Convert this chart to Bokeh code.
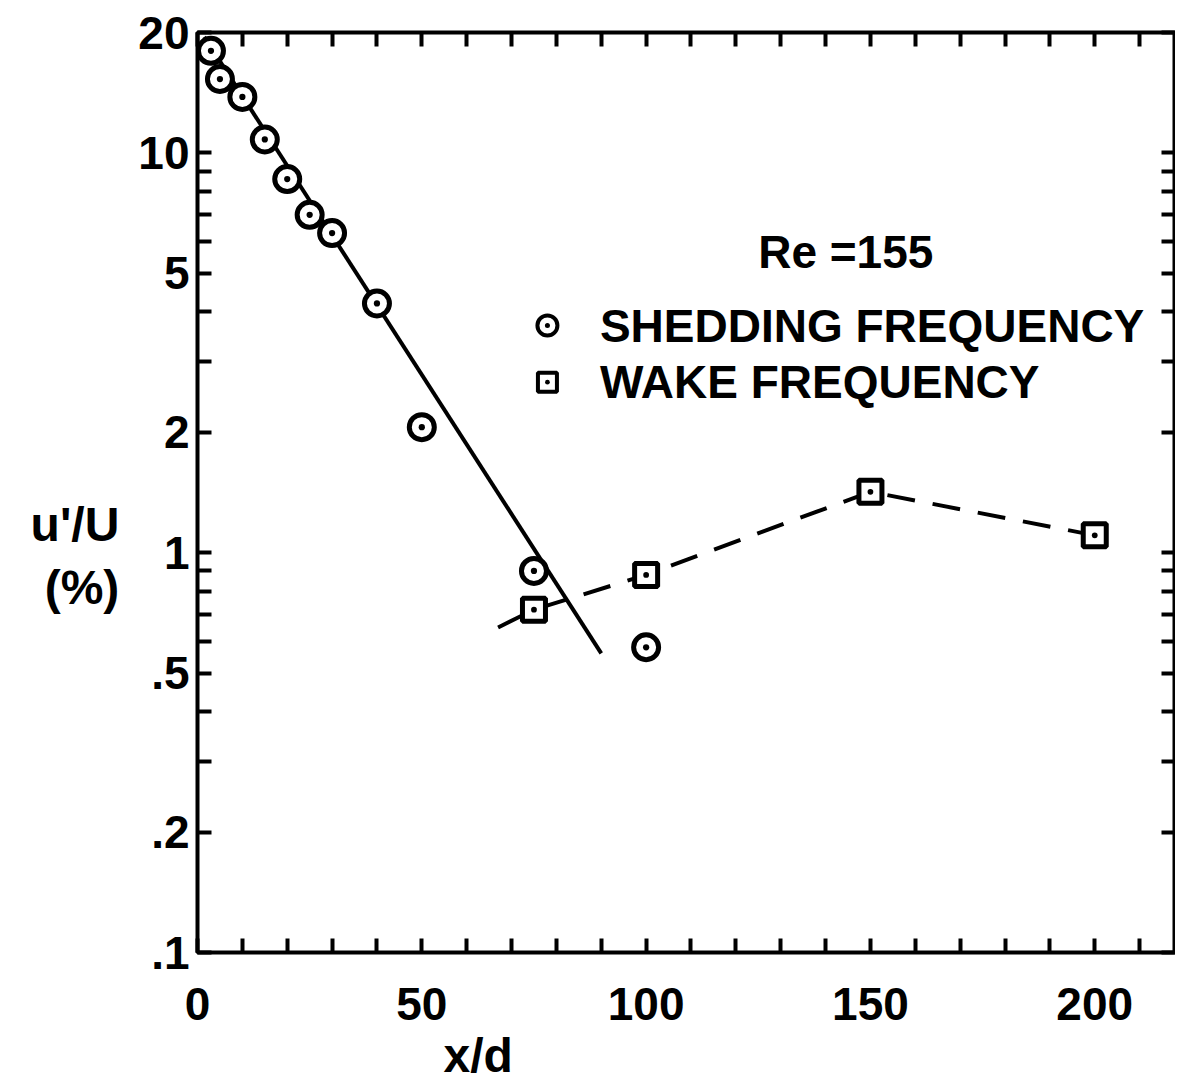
from bokeh.plotting import figure
from bokeh.models import Range1d, FixedTicker, LinearAxis, LogAxis, CustomJSTickFormatter, Label, Title
from bokeh.embed import file_html
from bokeh.resources import INLINE

# ---- data ----
shed_x = [3, 5, 10, 15, 20, 25, 30, 40, 50, 75, 100]
shed_y = [18.0, 15.3, 13.8, 10.8, 8.6, 7.0, 6.3, 4.2, 2.06, 0.90, 0.58]
wake_x = [75, 100, 150, 200]
wake_y = [0.72, 0.88, 1.42, 1.105]
fit_x = [1.5, 90]
fit_y = [19.5, 0.56]
wake_line_x = [67, 75, 100, 150, 200]
wake_line_y = [0.65, 0.72, 0.88, 1.42, 1.105]

x_major = [0, 50, 100, 150, 200]
x_minor = [10, 20, 30, 40, 60, 70, 80, 90, 110, 120, 130, 140, 160, 170, 180, 190, 210]
y_major = [0.1, 0.2, 0.5, 1, 2, 5, 10, 20]
y_minor = [0.3, 0.4, 0.6, 0.7, 0.8, 0.9, 3, 4, 6, 7, 8, 9]

legend_x = [78, 78]
legend_y = [3.70, 2.67]
legend_text = ["SHEDDING FREQUENCY", "WAKE FREQUENCY"]
title_text = "Re =155"
x_title = "x/d"
y_title = "\n\nu'/U\n(%)"

FONT = "Liberation Sans"

p = figure(width=1175, height=1086, x_range=Range1d(0, 218), y_range=Range1d(0.1, 20),
           y_axis_type="log", output_backend="svg", toolbar_location=None,
           min_border_left=197, min_border_right=0, min_border_top=32, min_border_bottom=20)
p.grid.visible = False
p.outline_line_color = "black"
p.outline_line_width = 4
p.background_fill_color = "white"
p.border_fill_color = "white"

def style_axis(ax):
    ax.axis_line_color = None
    ax.major_tick_in = 14
    ax.major_tick_out = 0
    ax.minor_tick_in = 14
    ax.minor_tick_out = 0
    ax.major_tick_line_width = 4
    ax.minor_tick_line_width = 4
    ax.major_tick_line_color = "black"
    ax.minor_tick_line_color = "black"
    ax.major_label_text_font = FONT
    ax.major_label_text_font_style = "bold"
    ax.major_label_text_color = "black"

xa = p.xaxis[0]
xa.ticker = FixedTicker(ticks=x_major, minor_ticks=x_minor)
style_axis(xa)
xa.major_label_text_font_size = "46px"
xa.major_label_standoff = 35

ya = p.yaxis[0]
ya.ticker = FixedTicker(ticks=y_major, minor_ticks=y_minor)
ya.formatter = CustomJSTickFormatter(code="""
    var s = String(tick);
    if (tick < 1) { s = s.replace(/^0/, ''); }
    return s;
""")
style_axis(ya)
ya.major_label_text_font_size = "46px"
ya.major_label_standoff = 8
ya.axis_label = y_title
ya.axis_label_orientation = "horizontal"
ya.axis_label_text_font = FONT
ya.axis_label_text_font_style = "bold"
ya.axis_label_text_font_size = "48px"
ya.axis_label_text_color = "black"
ya.axis_label_standoff = 16

top = LinearAxis(ticker=FixedTicker(ticks=[], minor_ticks=x_major + x_minor))
style_axis(top)
top.major_label_standoff = 0
top.axis_label_standoff = 0
p.add_layout(top, "above")
right = LogAxis(ticker=FixedTicker(ticks=[], minor_ticks=y_major + y_minor))
style_axis(right)
right.major_label_standoff = 0
right.axis_label_standoff = 0
p.add_layout(right, "right")

# x title placed below, shifted left like in the reference
p.add_layout(Title(text=x_title, align="left", offset=246, text_font=FONT,
                   text_font_style="bold", text_font_size="48px", text_color="black",
                   standoff=9), "below")

# lines
p.line(fit_x, fit_y, line_color="black", line_width=4)
p.line(wake_line_x, wake_line_y, line_color="black", line_width=4, line_dash="28 18")

# markers
p.scatter(shed_x, shed_y, marker="circle_dot", size=25, line_width=5,
          line_color="black", fill_color="white")
p.scatter(wake_x, wake_y, marker="square_dot", size=23, line_width=5,
          line_color="black", fill_color="white")

# legend (manual)
p.scatter(legend_x[:1], legend_y[:1], marker="circle_dot", size=20, line_width=4,
          line_color="black", fill_color="white")
p.scatter(legend_x[1:], legend_y[1:], marker="square_dot", size=19, line_width=4,
          line_color="black", fill_color="white")
for ty, tt in zip(legend_y, legend_text):
    p.add_layout(Label(x=89.7, y=ty, text=tt, text_font=FONT, text_font_style="bold",
                       text_font_size="46px", text_align="left", text_baseline="middle",
                       text_color="black"))
p.add_layout(Label(x=144.5, y=5.64, text=title_text, text_font=FONT, text_font_style="bold",
                   text_font_size="46px", text_align="center", text_baseline="middle",
                   text_color="black"))

open("out.html", "w").write(file_html(p, INLINE))
